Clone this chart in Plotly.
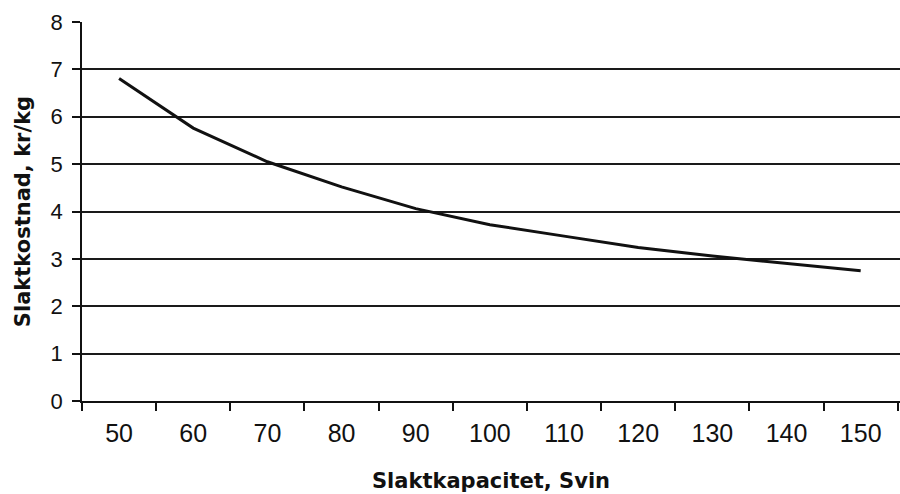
import plotly.graph_objects as go

kapacitet = ["50", "60", "70", "80", "90", "100", "110", "120", "130", "140", "150"]
kostnad = [6.81, 5.76, 5.05, 4.52, 4.06, 3.72, 3.48, 3.24, 3.06, 2.91, 2.75]
y_ticks = [0, 1, 2, 3, 4, 5, 6, 7, 8]

fig = go.Figure()
fig.add_trace(go.Scatter(
    x=kapacitet, y=kostnad, mode="lines",
    line=dict(color="#111111", width=3),
    showlegend=False,
))

fig.update_layout(
    width=900, height=494,
    margin=dict(l=82, r=0, t=22, b=93),
    paper_bgcolor="white", plot_bgcolor="white",
    font=dict(family="Liberation Sans", color="#111111"),
)
fig.update_xaxes(
    type="category",
    range=[-0.5, 10.53],
    tickson="boundaries",
    ticks="outside", ticklen=8, tickwidth=1.5, tickcolor="#111111",
    tickfont=dict(family="Liberation Sans", size=25, color="#111111"),
    ticklabelstandoff=9,
    showgrid=False,
    showline=True, linecolor="#111111", linewidth=1.5,
    title=dict(text="Slaktkapacitet, Svin",
               font=dict(family="DejaVu Sans", size=21, weight="bold", color="#111111"),
               standoff=28),
)
fig.update_yaxes(
    range=[0, 8],
    tickvals=y_ticks,
    ticks="outside", ticklen=8, tickwidth=1.5, tickcolor="#111111",
    tickfont=dict(family="Liberation Sans", size=22, color="#111111"),
    ticklabelstandoff=5,
    showgrid=True, gridcolor="#1a1a1a", gridwidth=1.5,
    showline=True, linecolor="#111111", linewidth=1.5,
    zeroline=False,
    title=dict(text="Slaktkostnad, kr/kg",
               font=dict(family="DejaVu Sans", size=21, weight="bold", color="#111111"),
               standoff=14),
)

fig.write_html("out.html")
